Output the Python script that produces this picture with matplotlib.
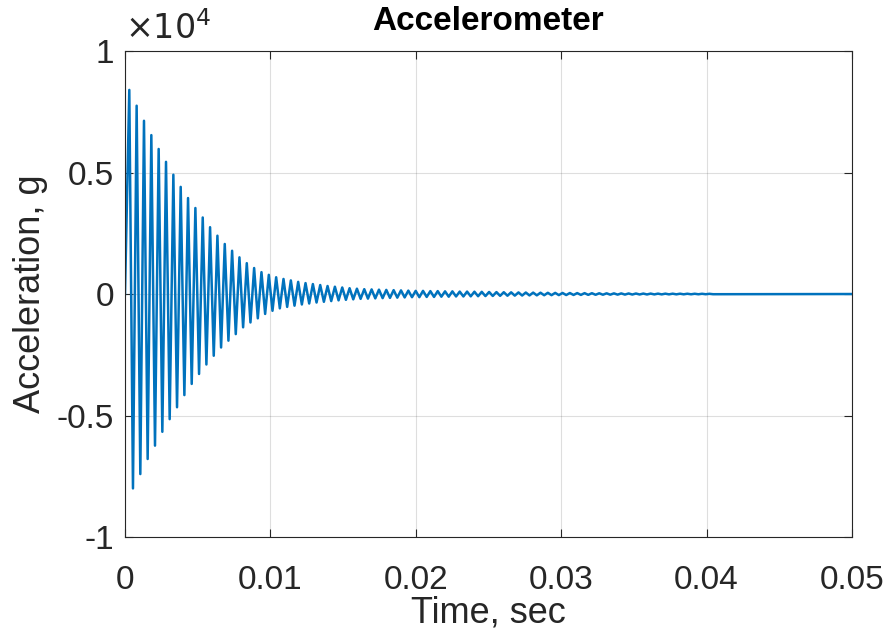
import numpy as np
import matplotlib
matplotlib.use('Agg')
import matplotlib.pyplot as plt

plt.rcParams['font.family'] = ['Liberation Sans', 'DejaVu Sans']
plt.rcParams['axes.unicode_minus'] = False

# positive peaks of the response, in units of 1e4 g
peak_max = [0.840, 0.775, 0.713, 0.654, 0.597, 0.544, 0.491, 0.441, 0.395, 0.354,
            0.315, 0.275, 0.240, 0.206, 0.178, 0.151, 0.127, 0.107, 0.090, 0.079,
            0.069, 0.062, 0.056, 0.050, 0.045, 0.041, 0.037, 0.033, 0.030, 0.027,
            0.024, 0.022, 0.020, 0.019, 0.018, 0.017, 0.016, 0.015, 0.014, 0.013,
            0.013, 0.012, 0.012, 0.011, 0.011, 0.010, 0.010, 0.0095, 0.009, 0.0085,
            0.008, 0.0075, 0.007, 0.0066, 0.0062, 0.0058, 0.0054, 0.005, 0.0047, 0.0044,
            0.0041, 0.0038, 0.0036, 0.0034, 0.0031, 0.0029, 0.0027, 0.0025, 0.0023, 0.0021,
            0.0019, 0.0018, 0.0016, 0.0015, 0.0014, 0.0013, 0.0012, 0.0011, 0.0010, 0.0009]
# negative peaks
peak_min = [-0.800, -0.741, -0.679, -0.624, -0.567, -0.515, -0.466, -0.416, -0.370, -0.329,
            -0.290, -0.254, -0.220, -0.192, -0.165, -0.137, -0.117, -0.100, -0.082, -0.069,
            -0.059, -0.053, -0.048, -0.043, -0.039, -0.035, -0.032, -0.029, -0.026, -0.024,
            -0.022, -0.020, -0.019, -0.018, -0.017, -0.016, -0.015, -0.014, -0.013, -0.013,
            -0.012, -0.012, -0.011, -0.011, -0.010, -0.010, -0.0095, -0.009, -0.0085, -0.008,
            -0.0075, -0.007, -0.0066, -0.0062, -0.0058, -0.0054, -0.005, -0.0047, -0.0044, -0.0041,
            -0.0038, -0.0036, -0.0034, -0.0031, -0.0029, -0.0027, -0.0025, -0.0023, -0.0021, -0.0019,
            -0.0018, -0.0016, -0.0015, -0.0014, -0.0013, -0.0012, -0.0011, -0.0010, -0.0009, -0.0008]

t_first = 0.000296   # time of first positive peak, sec
period = 0.000505    # oscillation period, sec
t_end = 0.05

n = len(peak_max)
t_max = t_first + period * np.arange(n)
t_min = t_max + period / 2

t = np.concatenate([[0.0], np.column_stack([t_max, t_min]).ravel(), [t_end]])
acc = np.concatenate([[0.0], np.column_stack([peak_max, peak_min]).ravel(), [0.0]]) * 1e4

fig = plt.figure(figsize=(8.89, 6.38), dpi=100)
ax = fig.add_axes([0.1406, 0.1583, 0.8178, 0.7617])

ax.plot(t, acc / 1e4, color='#0072BD', linewidth=1.8, solid_joinstyle='round')

ax.set_xlim(0, 0.05)
ax.set_ylim(-1, 1)
ax.set_xticks([0, 0.01, 0.02, 0.03, 0.04, 0.05])
ax.set_xticklabels(['0', '0.01', '0.02', '0.03', '0.04', '0.05'])
ax.set_yticks([-1, -0.5, 0, 0.5, 1])
ax.set_yticklabels(['-1', '-0.5', '0', '0.5', '1'])

ax.grid(True, color='#262626', alpha=0.15, linewidth=0.8)
ax.tick_params(direction='in', length=6, width=0.8, labelsize=24, colors='#262626',
               top=True, right=True, pad=8)
ax.tick_params(axis='x', pad=20)
for s in ax.spines.values():
    s.set_color('#262626')
    s.set_linewidth(0.8)

ax.set_xlabel('Time, sec', fontsize=26, color='#262626', labelpad=0)
ax.set_ylabel('Acceleration, g', fontsize=26, color='#262626', labelpad=6)
ax.set_title('Accelerometer', fontsize=24, fontweight='bold', pad=15)
ax.text(0.0, 1.01, r'$\times10^{4}$', transform=ax.transAxes, fontsize=24,
        color='#262626', ha='left', va='bottom')

fig.savefig('out.png', dpi=100)
